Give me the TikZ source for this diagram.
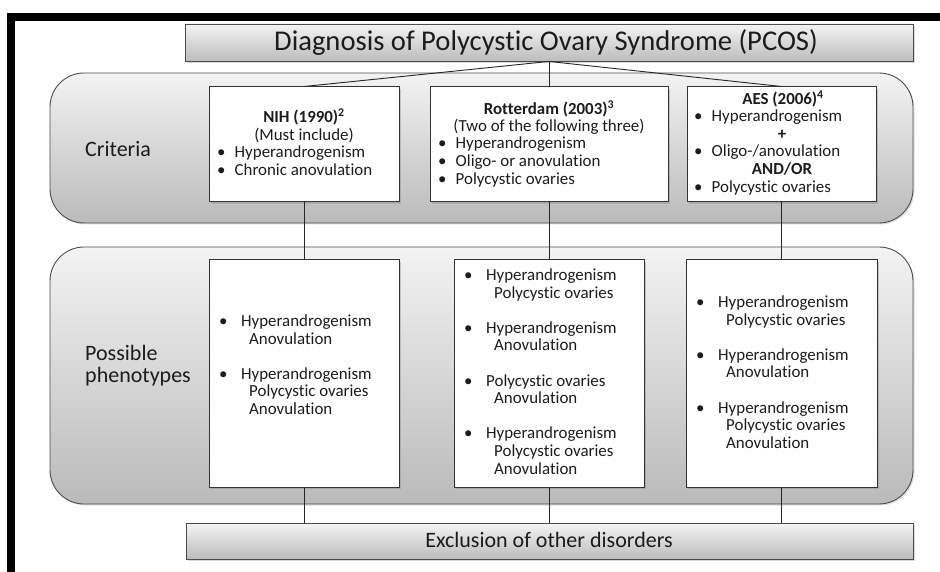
\documentclass[tikz,border=0pt]{standalone}
\usepackage{fontspec}
\setmainfont{Carlito}[Ligatures=CommonOff]
\usetikzlibrary{shadows}

\definecolor{panelTop}{RGB}{243,243,243}
\definecolor{panelBot}{RGB}{186,186,186}
\definecolor{barTop}{RGB}{244,244,244}
\definecolor{barBot}{RGB}{188,188,188}
\definecolor{ink}{RGB}{28,28,28}

% bullet items: criteria boxes use a narrower gap than phenotype boxes
\newcommand\crit[1]{\makebox[17.5pt][l]{•}#1}
\newcommand\phit[1]{\makebox[22pt][l]{•}#1}
\newcommand\phcont[1]{\hspace{30pt}#1}

\begin{document}
\begin{tikzpicture}[x=1pt,y=-1pt,
  panel/.style={draw=black!70, line width=0.9pt, rounded corners=34,
    top color=panelTop, bottom color=panelBot, inner sep=0,
    drop shadow={shadow xshift=1.5pt,shadow yshift=-1.5pt,opacity=0.25}},
  bar/.style={draw=black!70, line width=0.9pt, top color=barTop, bottom color=barBot,
    inner sep=0, drop shadow={shadow xshift=2pt,shadow yshift=-2pt,opacity=0.3}},
  card/.style={draw=black!80, line width=1pt, fill=white, inner sep=0,
    drop shadow={shadow xshift=2pt,shadow yshift=-2pt,opacity=0.35}},
  conn/.style={draw=black!85, line width=0.9pt},
  boxtxt/.style={inner sep=0, text=ink, font=\fontsize{16.9}{17.6}\selectfont},
  lbl/.style={inner sep=0, text=ink, font=\fontsize{22}{22}\selectfont, anchor=base west},
]
\useasboundingbox (0,0) rectangle (940,572);

% heavy frame along top and left edges
\fill[black] (7,13) rectangle (940,21);
\fill[black] (7,13) rectangle (15,572);

% the two rounded bands
\node[panel, minimum width=863, minimum height=150] (critband) at (481.5,148) {};
\node[panel, minimum width=863, minimum height=257] (phenoband) at (481.5,375.5) {};

\node[lbl] (critlbl) at (85,157) {Criteria};
\node[lbl, anchor=base west] (phenolbl) at (85,360)
  {\begin{tabular}[t]{@{}l@{}}Possible\\[0pt]phenotypes\end{tabular}};

% header and footer bars
\node[bar, minimum width=728, minimum height=37] (title) at (549,42.5) {};
\node[inner sep=0, text=ink, font=\fontsize{28.6}{28.6}\selectfont, anchor=base] (titletxt) at (546,50.5)
  {Diagnosis of Polycystic Ovary Syndrome (PCOS)};
\node[bar, minimum width=727, minimum height=36] (excl) at (549.5,541) {};
\node[inner sep=0, text=ink, font=\fontsize{22}{22}\selectfont, anchor=base] (excltxt) at (549,547)
  {Exclusion of other disorders};

% criteria cards
\node[card, minimum width=190, minimum height=115] (nih) at (304,144.5) {};
\node[card, minimum width=238, minimum height=115] (rot) at (549,144.5) {};
\node[card, minimum width=189, minimum height=115] (aes) at (781.5,144.5) {};

\node[boxtxt, anchor=base] (nihhead) at (304,122.5)
  {\begin{tabular}[t]{@{}c@{}}\textbf{NIH (1990)\textsuperscript{2}}\\(Must include)\end{tabular}};
\node[boxtxt, anchor=base west] (nihlist) at (217,157.5)
  {\begin{tabular}[t]{@{}l@{}}\crit{Hyperandrogenism}\\\crit{Chronic anovulation}\end{tabular}};

\node[boxtxt, anchor=base] (rothead) at (549,114.3)
  {\begin{tabular}[t]{@{}c@{}}\textbf{Rotterdam (2003)\textsuperscript{3}}\\(Two of the following three)\end{tabular}};
\node[boxtxt, anchor=base west] (rotlist) at (438,149)
  {\begin{tabular}[t]{@{}l@{}}\crit{Hyperandrogenism}\\\crit{Oligo- or anovulation}\\\crit{Polycystic ovaries}\end{tabular}};

\node[boxtxt, anchor=base] (aeshead) at (783,105)
  {\textbf{AES (2006)\textsuperscript{4}}};
\node[boxtxt, anchor=base west] (aeslist) at (694,121.7)
  {\begin{tabular}[t]{@{}l@{}}\crit{Hyperandrogenism}\\[17.6pt]\crit{Oligo-/anovulation}\\[17.6pt]\crit{Polycystic ovaries}\end{tabular}};
\node[boxtxt, anchor=base] (aesjoin) at (782,139.5)
  {\begin{tabular}[t]{@{}c@{}}\textbf{+}\\[17.6pt]\textbf{AND/OR}\end{tabular}};

% phenotype cards
\node[card, minimum width=190, minimum height=227] (ph1) at (304,373.5) {};
\node[card, minimum width=190, minimum height=227] (ph2) at (549,373.5) {};
\node[card, minimum width=191, minimum height=227] (ph3) at (781.5,373.5) {};

\node[boxtxt, anchor=base west] (ph1txt) at (219,326.5)
  {\begin{tabular}[t]{@{}l@{}}\phit{Hyperandrogenism}\\\phcont{Anovulation}\\[17.6pt]
   \phit{Hyperandrogenism}\\\phcont{Polycystic ovaries}\\\phcont{Anovulation}\end{tabular}};
\node[boxtxt, anchor=base west] (ph2txt) at (464,280.5)
  {\begin{tabular}[t]{@{}l@{}}\phit{Hyperandrogenism}\\\phcont{Polycystic ovaries}\\[17.6pt]
   \phit{Hyperandrogenism}\\\phcont{Anovulation}\\[17.6pt]
   \phit{Polycystic ovaries}\\\phcont{Anovulation}\\[17.6pt]
   \phit{Hyperandrogenism}\\\phcont{Polycystic ovaries}\\\phcont{Anovulation}\end{tabular}};
\node[boxtxt, anchor=base west] (ph3txt) at (696,307.5)
  {\begin{tabular}[t]{@{}l@{}}\phit{Hyperandrogenism}\\\phcont{Polycystic ovaries}\\[17.6pt]
   \phit{Hyperandrogenism}\\\phcont{Anovulation}\\[17.6pt]
   \phit{Hyperandrogenism}\\\phcont{Polycystic ovaries}\\\phcont{Anovulation}\end{tabular}};

% connectors
\draw[conn] (title.south) -- (nih.north);
\draw[conn] (title.south) -- (rot.north);
\draw[conn] (title.south) -- (aes.north);
\draw[conn] (nih.south) -- (ph1.north);
\draw[conn] (rot.south) -- (ph2.north);
\draw[conn] (aes.south) -- (ph3.north);
\draw[conn] (ph1.south) -- (ph1.south |- excl.north);
\draw[conn] (ph2.south) -- (ph2.south |- excl.north);
\draw[conn] (ph3.south) -- (ph3.south |- excl.north);
\end{tikzpicture}
\end{document}
